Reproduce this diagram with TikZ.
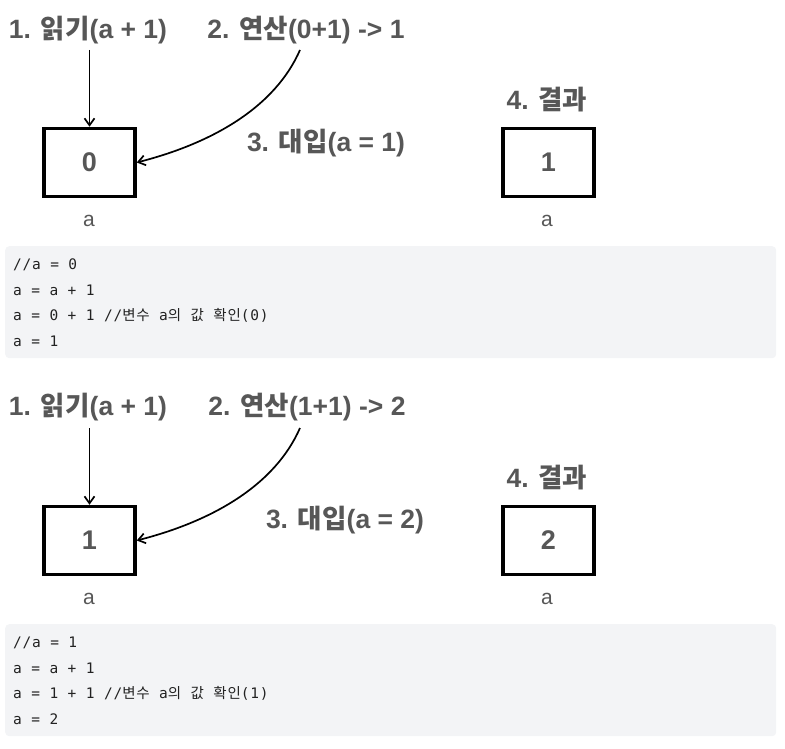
\documentclass[tikz,border=0pt]{standalone}
\usepackage{fontspec}
\setmainfont{Liberation Sans}
\newfontfamily\kr{Noto Sans CJK KR}
\newfontfamily\codefont[LetterSpace=5]{DejaVu Sans Mono}
\newfontfamily\codekr[LetterSpace=5]{Noto Sans CJK KR}
\usetikzlibrary{arrows.meta}
\definecolor{lbl}{HTML}{575757}
\definecolor{codebg}{HTML}{F3F4F6}
\definecolor{codetx}{HTML}{222222}
\newcommand{\K}[1]{{\kr\bfseries #1}}
\newcommand{\CK}[1]{{\codekr #1}}
\tikzset{
  steplabel/.style={text=lbl, font=\fontsize{26.5}{30}\selectfont\bfseries, inner sep=2pt},
  valbox/.style={draw=black, line width=3.5pt, minimum width=91pt, minimum height=68pt, text=lbl, font=\fontsize{27}{30}\selectfont\bfseries},
  varname/.style={text=lbl, font=\fontsize{21}{24}\selectfont},
  arr/.style={-{Straight Barb[length=7pt,width=10pt]}, line width=1.7pt, black},
  codebox/.style={fill=codebg, draw=none, rounded corners=4pt},
  codeline/.style={anchor=west, text=codetx, font=\fontsize{14.5}{16}\selectfont\codefont, inner sep=0pt}
}
\begin{document}
\begin{tikzpicture}[x=1pt, y=-1pt]
\useasboundingbox (0,0) rectangle (785,749);
% ---------- first panel ----------
\node[steplabel] (r1) at (88,30) {1. \K{읽기}(a + 1)};
\node[steplabel] (o1) at (306,30) {2. \K{연산}(0+1) -> 1};
\node[steplabel] (s1) at (326,143) {3. \K{대입}(a = 1)};
\node[steplabel] (g1) at (547,100) {4. \K{결과}};
\node[valbox] (a1) at (89.5,162.5) {0};
\node[valbox] (b1) at (548.5,162.5) {1};
\node[varname] (na1) at (89,221) {a};
\node[varname] (nb1) at (547,221) {a};
\draw[arr] (a1.north |- 0,50) coordinate (t1) -- (a1.north);
\coordinate (c1) at (300,50);
\draw[arr] (c1) .. controls (275,107) and (213,143) .. (a1.east);
\node[codebox, minimum width=771pt, minimum height=112pt, anchor=north west] (cb1) at (5,246) {};
\node[codeline] (l11) at (13,265) {//a = 0};
\node[codeline] (l12) at (13,290) {a = a + 1};
\node[codeline] (l13) at (13,315) {a = 0 + 1 //\CK{변수} a\CK{의} \CK{값} \CK{확인}(0)};
\node[codeline] (l14) at (13,341) {a = 1};
% ---------- second panel ----------
\node[steplabel] (r2) at (88,407) {1. \K{읽기}(a + 1)};
\node[steplabel] (o2) at (307,407) {2. \K{연산}(1+1) -> 2};
\node[steplabel] (s2) at (345,520) {3. \K{대입}(a = 2)};
\node[steplabel] (g2) at (547,478) {4. \K{결과}};
\node[valbox] (a2) at (89.5,540.5) {1};
\node[valbox] (b2) at (548.5,540.5) {2};
\node[varname] (na2) at (89,599) {a};
\node[varname] (nb2) at (547,599) {a};
\draw[arr] (a2.north |- 0,428) coordinate (t2) -- (a2.north);
\coordinate (c2) at (300,428);
\draw[arr] (c2) .. controls (275,485) and (213,521) .. (a2.east);
\node[codebox, minimum width=771pt, minimum height=112pt, anchor=north west] (cb2) at (5,624) {};
\node[codeline] (l21) at (13,643) {//a = 1};
\node[codeline] (l22) at (13,668) {a = a + 1};
\node[codeline] (l23) at (13,693) {a = 1 + 1 //\CK{변수} a\CK{의} \CK{값} \CK{확인}(1)};
\node[codeline] (l24) at (13,719) {a = 2};
\end{tikzpicture}
\end{document}
